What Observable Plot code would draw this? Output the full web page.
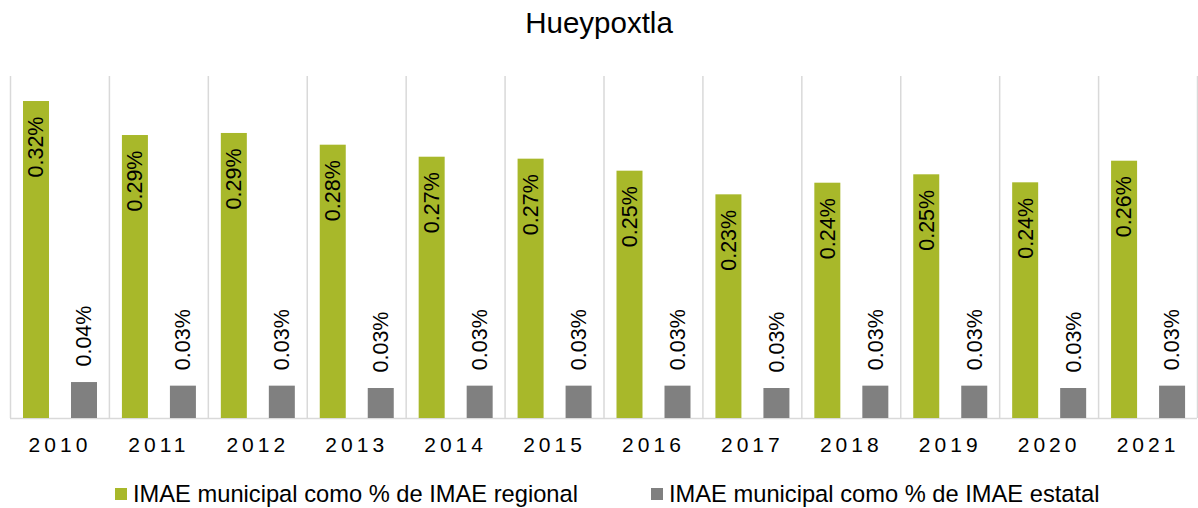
<!DOCTYPE html>
<html>
<head>
<meta charset="utf-8">
<script src="https://cdn.jsdelivr.net/npm/d3@7"></script>
<script src="https://cdn.jsdelivr.net/npm/@observablehq/plot@0.6"></script>
<style>
  html, body { margin: 0; padding: 0; background: #fff; }
  body { width: 1198px; height: 508px; position: relative; overflow: hidden; font-family: "Liberation Sans", Arial, sans-serif; }
  #title { position: absolute; left: 0; width: 1198px; top: 8px; text-align: center; font-size: 29.5px; line-height: 29.5px; color: #000; }
  #chart { position: absolute; left: 0; top: 0; }
  .leg { position: absolute; top: 482px; display: flex; align-items: center; font-size: 23.7px; line-height: 24px; color: #000; white-space: nowrap; }
  .sw { width: 12px; height: 12px; margin-right: 6px; }
</style>
</head>
<body>
<div id="title">Hueypoxtla</div>
<div id="chart"></div>
<div class="leg" style="left:115px"><span class="sw" style="background:#a8b82a"></span>IMAE municipal como % de IMAE regional</div>
<div class="leg" style="left:651px"><span class="sw" style="background:#808080"></span>IMAE municipal como % de IMAE estatal</div>
<script>
const years = ["2010","2011","2012","2013","2014","2015","2016","2017","2018","2019","2020","2021"];
const regional = [0.3244, 0.2896, 0.2917, 0.2797, 0.2674, 0.2654, 0.2531, 0.2289, 0.2408, 0.2494, 0.2412, 0.2633];
const estatal  = [0.0368, 0.0331, 0.0331, 0.0307, 0.0331, 0.0331, 0.0331, 0.0307, 0.0331, 0.0331, 0.0307, 0.0331];
const seriesNames = ["IMAE municipal como % de IMAE regional", "IMAE municipal como % de IMAE estatal"];

const reg = years.map((y, i) => ({year: y, value: regional[i]}));
const est = years.map((y, i) => ({year: y, value: estatal[i]}));
const fmt = v => v.toFixed(2) + "%";

const W = 1198, H = 470, mL = 10, mR = 1;
const bw = (W - mL - mR) / years.length;
const grid = "#d9d9d9";

const chart = Plot.plot({
  width: W,
  height: H,
  marginLeft: mL,
  marginRight: mR,
  marginTop: 76,
  marginBottom: 52,
  style: {fontFamily: "'Liberation Sans', Arial, sans-serif", fontSize: "21.5px", color: "#000", background: "transparent"},
  x: {domain: years, padding: 0, round: false, axis: null},
  y: {domain: [0, 0.35], axis: null},
  marks: [
    Plot.ruleX(years, {x: d => d, y1: 0, y2: 0.35, dx: -bw / 2, stroke: grid, strokeWidth: 1.5}),
    Plot.ruleX([years[years.length - 1]], {x: d => d, y1: 0, y2: 0.35, dx: bw / 2, stroke: grid, strokeWidth: 1.5}),
    Plot.ruleY([0], {stroke: grid, strokeWidth: 1.5}),
    Plot.barY(reg, {x: "year", y: "value", fill: "#a8b82a", insetLeft: 13, insetRight: bw - 39}),
    Plot.barY(est, {x: "year", y: "value", fill: "#808080", insetLeft: 61, insetRight: bw - 87}),
    Plot.text(reg, {x: "year", y: "value", text: d => fmt(d.value), rotate: -90, textAnchor: "end", lineAnchor: "middle", dx: 26 - bw / 2, dy: 15, fill: "#000", fontSize: 21.5}),
    Plot.text(est, {x: "year", y: "value", text: d => fmt(d.value), rotate: -90, textAnchor: "start", lineAnchor: "middle", dx: 74 - bw / 2, dy: -16, fill: "#000", fontSize: 21.5}),
    Plot.text(years, {x: d => d, y: 0, text: d => d, textAnchor: "middle", lineAnchor: "middle", dy: 27, fill: "#000", fontSize: 21, ariaLabel: "yearlabels"})
  ]
});
d3.select(chart).selectAll("text").filter(function() { return /^20\d\d$/.test(this.textContent); })
  .style("letter-spacing", "4px").attr("letter-spacing", "4px");
document.getElementById("chart").appendChild(chart);
</script>
</body>
</html>
